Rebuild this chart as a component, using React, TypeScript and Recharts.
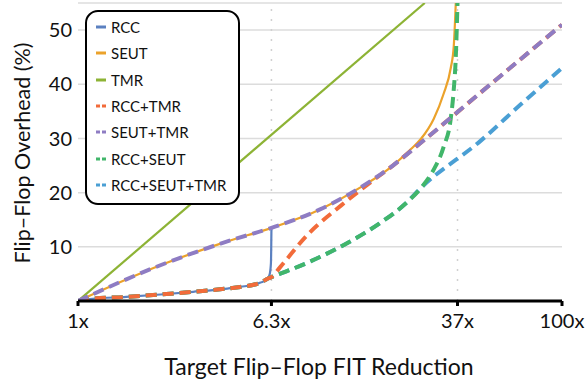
import React from "react";
import { LineChart, Line, XAxis, YAxis, CartesianGrid, ReferenceLine, Label } from "recharts";

// x = FIT reduction factor, y = flip-flop overhead (%)
const lowCurve: [number, number][] = [
  [1, 0], [1.15, 0.4], [1.58, 0.75], [2.19, 1.2], [2.99, 1.7], [4.14, 2.3],
  [4.69, 2.6], [5.68, 3.4], [6.07, 4.1],
];
const rccTail: [number, number][] = [[6.2, 5.0], [6.27, 7.0], [6.3, 13.3]];
const seutTmrPts: [number, number][] = [
  [1, 0], [2.19, 6.6], [4.14, 11.0], [6.3, 13.5], [10, 16.9], [15, 21.2],
  [20, 25.0], [26.1, 29.2], [46.2, 38.5], [100, 51],
];
const seutTail: [number, number][] = [
  [23.7, 28.0], [26.1, 29.9], [29.5, 33.6], [32.4, 38.2], [34.7, 43], [35.7, 47], [36.4, 55],
];
const tmrPts: [number, number][] = [[1, 0], [27.1, 55]];
const rccTmrMid: [number, number][] = [
  [6.3, 4.4], [6.86, 6.3], [8.87, 12.2], [12.2, 17.6], [16.6, 22.3],
];
const rccSeutMid: [number, number][] = [
  [6.3, 4.4], [8.91, 7.1], [12.6, 10.4], [17.8, 14.45], [22.4, 17.85], [26.3, 21.0],
];
const rccSeutTop: [number, number][] = [
  [29.5, 24.25], [32.4, 28.4], [34.7, 33.7], [35.7, 39], [36.4, 45], [37, 55],
];
const allTail: [number, number][] = [[46.2, 29.6], [67.6, 36.3], [100, 43]];

const xTicks = [1, 6.3, 37, 100];
const yTicks = [10, 20, 30, 40, 50];

const toRows = (pts: [number, number][]) => pts.map(([x, y]) => ({ x, y }));

const series = [
  { name: "RCC", color: "#5b80c0", dashed: false, pts: [...lowCurve, ...rccTail] },
  { name: "SEUT", color: "#eba22b", dashed: false, pts: [...seutTmrPts.filter(p => p[0] <= 20), ...seutTail] },
  { name: "TMR", color: "#8db335", dashed: false, pts: tmrPts },
  { name: "RCC+TMR", color: "#f26b3a", dashed: true, pts: [...lowCurve, ...rccTmrMid, ...seutTmrPts.filter(p => p[0] > 17)] },
  { name: "SEUT+TMR", color: "#8e7cc3", dashed: true, pts: seutTmrPts },
  { name: "RCC+SEUT", color: "#41b66a", dashed: true, pts: [...lowCurve, ...rccSeutMid, ...rccSeutTop] },
  { name: "RCC+SEUT+TMR", color: "#4a9fd4", dashed: true, pts: [...lowCurve, ...rccSeutMid, ...allTail] },
];

// draw order: solids first, then dashed from last legend entry to first
const drawOrder = ["RCC", "SEUT", "TMR", "RCC+SEUT+TMR", "RCC+SEUT", "RCC+TMR", "SEUT+TMR"];

const FONT = "Lato, sans-serif";

export default function App() {
  return (
    <div style={{ position: "absolute", left: 0, top: 0, width: 585, height: 382, background: "#fff", fontFamily: FONT }}>
      <LineChart width={585} height={382} margin={{ top: 3, right: 23, bottom: 0, left: 0 }}>
        <CartesianGrid vertical={false} stroke="#dcdcdc" strokeWidth={1.5} />
        <ReferenceLine x={6.3} stroke="#d0d0d0" strokeWidth={1.5} strokeDasharray="2 8" />
        <ReferenceLine x={37} stroke="#d0d0d0" strokeWidth={1.5} strokeDasharray="2 8" />
        <XAxis
          dataKey="x" type="number" scale="log" domain={[1, 100]} ticks={xTicks}
          allowDataOverflow height={81}
          tickFormatter={(v: number) => `${v}x`}
          tick={{ fontSize: 20, fill: "#111", fontFamily: FONT }}
          axisLine={{ stroke: "#000", strokeWidth: 3 }}
          tickLine={{ stroke: "#000", strokeWidth: 3 }} tickSize={5} tickMargin={8}
        >
          <Label content={() => (
            <text x={319} y={366} textAnchor="middle" dominantBaseline="central" fontSize={23} fill="#111" fontFamily={FONT}>
              Target Flip–Flop FIT Reduction
            </text>
          )} />
        </XAxis>
        <YAxis
          type="number" domain={[0, 55]} ticks={yTicks} width={78} allowDataOverflow
          axisLine={false} tickLine={false} tickSize={0} tickMargin={6}
          tick={{ fontSize: 20, fill: "#111", fontFamily: FONT }}
        >
          <Label content={() => (
            <text x={22} y={153} transform="rotate(-90 22 153)" textAnchor="middle" dominantBaseline="central" fontSize={21.5} fill="#111" fontFamily={FONT}>
              Flip–Flop Overhead (%)
            </text>
          )} />
        </YAxis>
        {drawOrder.map(n => {
          const s = series.find(q => q.name === n)!;
          return (
            <Line
              key={s.name} data={toRows(s.pts)} dataKey="y" name={s.name}
              type="monotone" stroke={s.color}
              strokeWidth={s.dashed ? 4 : 2.2}
              strokeDasharray={s.dashed ? "11 6" : undefined}
              dot={false} activeDot={false} isAnimationActive={false}
            />
          );
        })}
      </LineChart>
      <div style={{
        position: "absolute", left: 85, top: 10, width: 155, height: 195, boxSizing: "border-box",
        border: "2.5px solid #000", borderRadius: 13, background: "#fff", padding: "2px 0 0 0",
      }}>
        {series.map(s => (
          <div key={s.name} style={{ display: "flex", alignItems: "center", height: 26.3 }}>
            <svg width={10} height={4} style={{ marginLeft: 9, marginRight: 5 }}>
              <line x1={0} y1={2} x2={10} y2={2} stroke={s.color} strokeWidth={3}
                strokeDasharray={s.dashed ? "4 2" : undefined} />
            </svg>
            <span style={{ fontSize: 15, color: "#111" }}>{s.name}</span>
          </div>
        ))}
      </div>
    </div>
  );
}
